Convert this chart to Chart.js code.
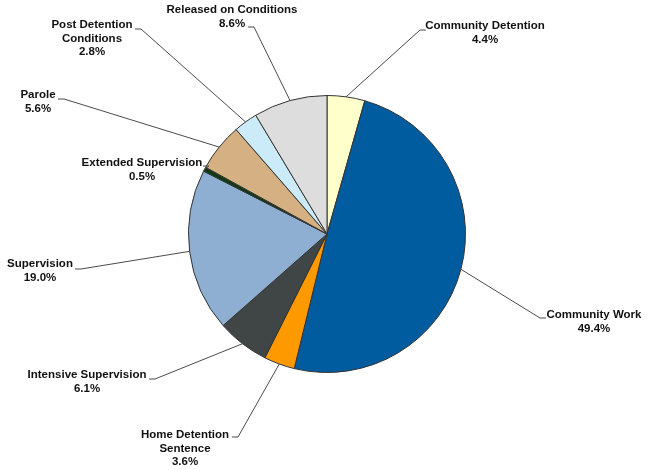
<!DOCTYPE html>
<html>
<head>
<meta charset="utf-8">
<script src="https://cdn.jsdelivr.net/npm/chart.js@4.4.0/dist/chart.umd.min.js"></script>
<style>
    html, body { margin: 0; padding: 0; background: #fff; }
</style>
</head>
<body>
<canvas id="myChart" width="650" height="470"></canvas>
<script>
// slices, clockwise from 12 o'clock
const categories = [
    'Community Detention',
    'Community Work',
    'Home Detention Sentence',
    'Intensive Supervision',
    'Supervision',
    'Extended Supervision',
    'Parole',
    'Post Detention Conditions',
    'Released on Conditions'
];
const shares = [4.4, 49.4, 3.6, 6.1, 19.0, 0.5, 5.6, 2.8, 8.6];

const sliceColors = [
    '#FFFFCC',
    '#005C9E',
    '#FF9900',
    '#404545',
    '#8FAFD2',
    '#0F3A12',
    '#D5B082',
    '#CCEBF8',
    '#DDDDDD'
];

// long names broken over two lines like the original
const wrapped = {
    'Post Detention Conditions': ['Post Detention', 'Conditions'],
    'Home Detention Sentence': ['Home Detention', 'Sentence']
};

// where each label sits: text centre x, first line y, leader end (ax, ay)
const labelSpots = [
    { x: 485, y: 26, ax: 426, ay: 30 },
    { x: 594, y: 315, ax: 546, ay: 318 },
    { x: 185, y: 435, ax: 232, ay: 437 },
    { x: 87, y: 375, ax: 149, ay: 379 },
    { x: 40, y: 264, ax: 75, ay: 269 },
    { x: 142, y: 163, ax: 203, ay: 166 },
    { x: 38, y: 95, ax: 58, ay: 99 },
    { x: 92, y: 25, ax: 135, ay: 29 },
    { x: 232, y: 10, ax: 248, ay: 27 }
];

const leaderLabels = {
    id: 'leaderLabels',
    afterDraw(chart) {
        const ctx = chart.ctx;
        const meta = chart.getDatasetMeta(0);
        ctx.save();
        ctx.font = 'bold 11.5px "Liberation Sans", Arial, sans-serif';
        ctx.textAlign = 'center';
        ctx.textBaseline = 'middle';
        meta.data.forEach(function (arc, i) {
            const p = arc.getProps(['x', 'y', 'startAngle', 'endAngle', 'outerRadius'], true);
            const mid = (p.startAngle + p.endAngle) / 2;
            const ex = p.x + Math.cos(mid) * p.outerRadius;
            const ey = p.y + Math.sin(mid) * p.outerRadius;
            const spot = labelSpots[i];
            const dir = spot.ax < p.x ? 1 : -1;

            // leader line
            ctx.strokeStyle = '#4a4a4a';
            ctx.lineWidth = 1;
            ctx.beginPath();
            ctx.moveTo(spot.ax, spot.ay);
            ctx.lineTo(spot.ax + dir * 6, spot.ay);
            ctx.lineTo(ex, ey);
            ctx.stroke();

            // text
            const lines = (wrapped[categories[i]] || [categories[i]]).concat([shares[i].toFixed(1) + '%']);
            ctx.fillStyle = '#111';
            lines.forEach(function (t, k) {
                ctx.fillText(t, spot.x, spot.y + k * 13.5);
            });
        });
        ctx.restore();
    }
};

new Chart(document.getElementById('myChart'), {
    type: 'pie',
    data: {
        labels: categories,
        datasets: [{
            data: shares,
            backgroundColor: sliceColors,
            borderColor: '#333',
            borderWidth: 1
        }]
    },
    options: {
        responsive: false,
        animation: false,
        layout: {
            padding: { top: 95, bottom: 97, left: 100, right: 96 }
        },
        plugins: {
            legend: { display: false },
            tooltip: { enabled: false }
        }
    },
    plugins: [leaderLabels]
});
</script>
</body>
</html>
